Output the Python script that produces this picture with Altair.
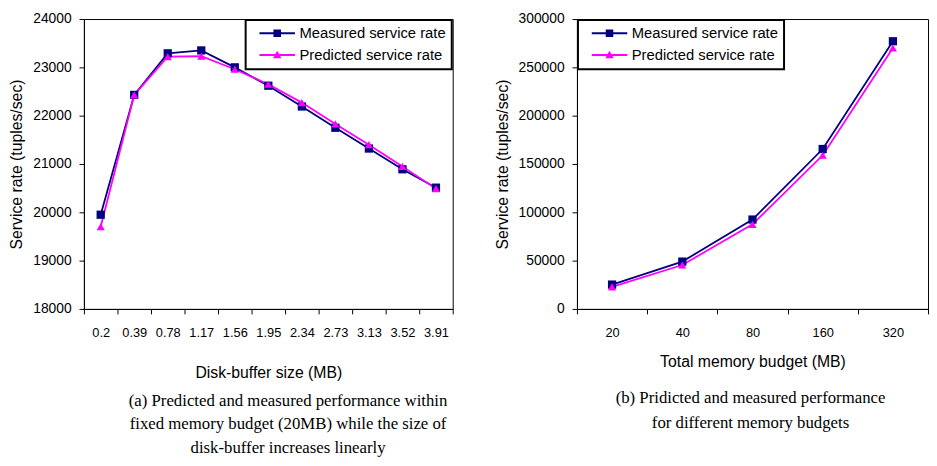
import altair as alt
import pandas as pd

# ---------------- data ----------------
buffer_sizes = ["0.2", "0.39", "0.78", "1.17", "1.56", "1.95", "2.34", "2.73", "3.13", "3.52", "3.91"]
measured_a = [19950, 22430, 23290, 23350, 23000, 22620, 22190, 21750, 21320, 20890, 20510]
predicted_a = [19700, 22430, 23220, 23230, 22960, 22650, 22270, 21830, 21400, 20950, 20490]

budgets = ["20", "40", "80", "160", "320"]
measured_b = [25200, 49000, 92500, 165500, 277000]
predicted_b = [22800, 45500, 87500, 159000, 270000]

series_names = ["Measured service rate", "Predicted service rate"]
series_colors = ["#000080", "#ff00ff"]
series_shapes = ["square", "triangle-up"]

y_ticks_a = [18000, 19000, 20000, 21000, 22000, 23000, 24000]
y_ticks_b = [0, 50000, 100000, 150000, 200000, 250000, 300000]

caption_a = ["(a) Predicted and measured performance within",
             "fixed memory budget (20MB) while the size of",
             "disk-buffer increases linearly"]
caption_b = ["(b) Pridicted and measured performance",
             "for different memory budgets"]


def to_long(cats, measured, predicted):
    rows = []
    for name, vals in zip(series_names, [measured, predicted]):
        for c, v in zip(cats, vals):
            rows.append({"cat": c, "series": name, "value": v})
    return pd.DataFrame(rows)


# legend symbols: a short line with the marker in the middle (filled paths only)
SQ = "M-4,-0.22H4V0.22H-4Z M-0.85,-0.85H0.85V0.85H-0.85Z"
TRI = "M-4,-0.22H4V0.22H-4Z M0,-0.95L0.95,0.75H-0.95Z"


def make_legend(orient):
    return alt.Legend(
        title=None,
        orient=orient,
        offset=1,
        padding=6,
        strokeColor="black",
        fillColor="white",
        symbolSize=81,
        symbolStrokeWidth=0,
        symbolOffset=18.5,
        labelOffset=15,
        labelFontSize=15,
        labelFont="Liberation Sans",
        labelColor="black",
        labelLimit=300,
        rowPadding=6,
        symbolOpacity=1,
    )


def panel(df, cats, ydomain, yticks, xtitle, xtitle_pad, legend_orient, caption, cap_dx, cap_offset,
          cap_lh, width):
    cscale = alt.Scale(domain=series_names, range=series_colors)
    x = alt.X("cat:N", sort=cats, bandPosition=0.5,
              scale=alt.Scale(type="band", paddingInner=0, paddingOuter=0),
              axis=alt.Axis(title=xtitle, tickBand="extent", labelAngle=0, labelFontSize=13,
                            labelPadding=13, titleFontSize=16, titleFontWeight="normal",
                            titlePadding=xtitle_pad, grid=False))
    y = alt.Y("value:Q", scale=alt.Scale(domain=ydomain, nice=False, zero=False),
              axis=alt.Axis(title="Service rate (tuples/sec)", values=yticks, format="d",
                            labelFontSize=14, labelPadding=8, titleFontSize=16,
                            titleFontWeight="normal", titlePadding=8, grid=False))
    lines = alt.Chart(df).mark_line(strokeWidth=1.8).encode(
        x=x, y=y, color=alt.Color("series:N", scale=cscale, legend=None), detail="series:N")
    points = alt.Chart(df).mark_point(filled=True, opacity=1, size=70).encode(
        x=x, y=y,
        color=alt.Color("series:N", scale=cscale, legend=None),
        shape=alt.Shape("series:N", scale=alt.Scale(domain=series_names, range=series_shapes), legend=None),
    )
    leg = make_legend(legend_orient)
    legend_layer = alt.Chart(df).transform_filter("false").mark_point(filled=True, opacity=1).encode(
        x=x, y=y,
        color=alt.Color("series:N", scale=cscale, legend=leg),
        shape=alt.Shape("series:N", scale=alt.Scale(domain=series_names, range=[SQ, TRI]), legend=leg),
    )
    return alt.layer(lines, points, legend_layer).resolve_scale(
        color="independent", shape="independent"
    ).properties(
        width=width, height=294,
        title=alt.TitleParams(text=caption, orient="bottom", anchor="middle", frame="group",
                              font="Liberation Serif", fontSize=17, fontWeight="normal",
                              color="black", lineHeight=cap_lh, dx=cap_dx, offset=cap_offset),
    )


left = panel(to_long(buffer_sizes, measured_a, predicted_a), buffer_sizes, [18000, 24000], y_ticks_a,
             "Disk-buffer size (MB)", 26, "top-right", caption_a, 20, 12, 24, 374)
right = panel(to_long(budgets, measured_b, predicted_b), budgets, [0, 300000], y_ticks_b,
              "Total memory budget (MB)", 14, "top-left", caption_b, -2, 21, 26, 356)


def build(legend_stroke=True):
    c = alt.hconcat(left, right, spacing=40).resolve_scale(
        color="independent", shape="independent", x="independent", y="independent"
    ).properties(
        padding={"left": 0, "top": 0, "right": 0, "bottom": 0}
    ).configure(font="Liberation Sans").configure_view(stroke="black", strokeWidth=1).configure_axis(
        domainColor="black", tickColor="black", labelColor="black", titleColor="black",
        labelFont="Liberation Sans", titleFont="Liberation Sans", tickSize=5,
    )
    if legend_stroke:
        c = c.configure_legend(strokeWidth=2)
    return c


try:
    chart = build(True)
    chart.to_dict()
except Exception:
    chart = build(False)

chart.save("out.html", embed_options={"renderer": "svg", "actions": False})
